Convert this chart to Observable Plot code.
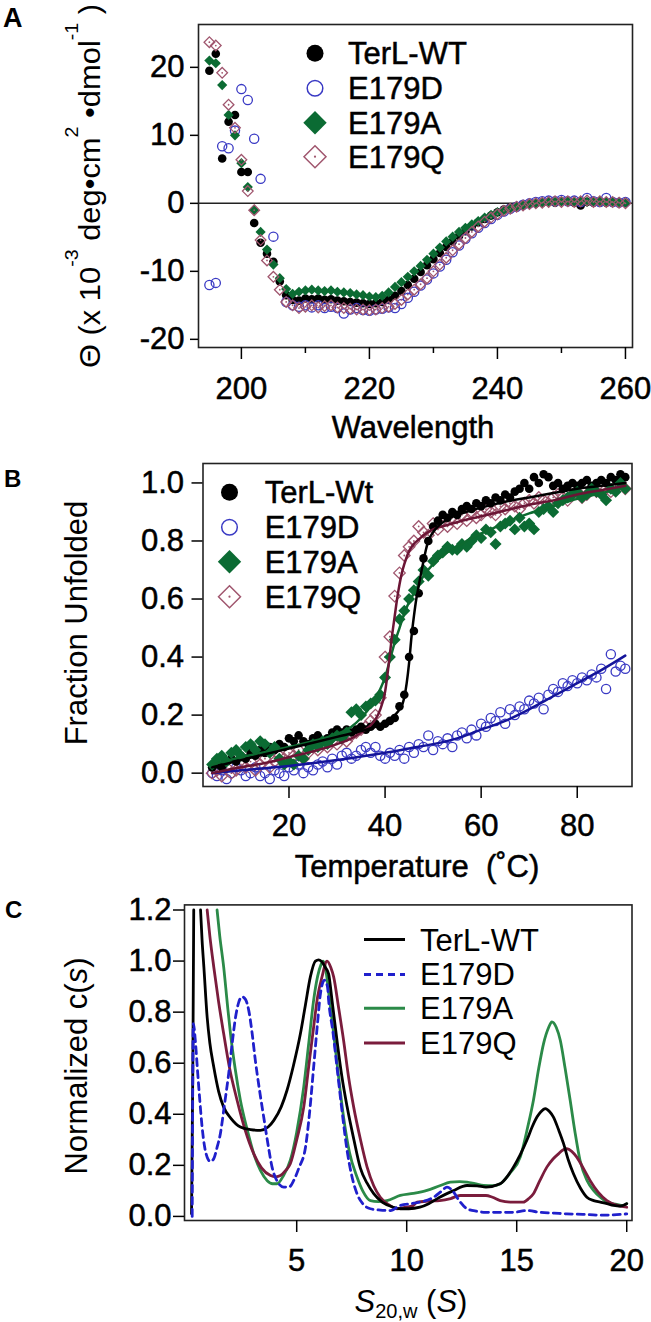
<!DOCTYPE html>
<html><head><meta charset="utf-8">
<script src="https://cdn.jsdelivr.net/npm/d3@7"></script>
<script src="https://cdn.jsdelivr.net/npm/@observablehq/plot@0.6"></script>
<style>
body{margin:0;background:#fff;}
#wrap{position:relative;width:651px;height:1322px;overflow:hidden;background:#fff;}
#wrap svg{position:absolute;left:0;overflow:visible;}
text{white-space:pre;}
</style></head><body><div id="wrap"></div>
<script>
// ---------- Panel A: CD spectra ----------
const wavelength = [195,196,197,198,199,200,201,202,203,204,205,206,207,208,209,210,211,212,213,214,215,216,217,218,219,220,221,222,223,224,225,226,227,228,229,230,231,232,233,234,235,236,237,238,239,240,241,242,243,244,245,246,247,248,249,250,251,252,253,254,255,256,257,258,259,260];
const cdWT = [19.5,22.0,6.6,12.0,13.0,4.6,4.6,-2.9,-5.8,-7.4,
  -8.6,-11.5,-13.5,-14.2,-14.3,-14.0,-14.1,-14.0,-14.2,-14.1,
  -14.3,-14.4,-14.5,-14.6,-14.7,-14.8,-14.7,-14.5,-14.2,-13.6,
  -12.9,-12.0,-11.1,-10.1,-9.1,-8.2,-7.3,-6.4,-5.6,-4.8,
  -4.1,-3.4,-2.8,-2.3,-1.8,-1.3,-0.9,-0.6,-0.4,-0.2,
  -0.1,0.0,0.1,0.2,0.1,0.3,0.2,0.1,-0.3,0.2,
  0.1,0.2,0.1,0.2,0.1,0.1];
const cdE179D = [-12.0,-11.7,8.4,8.1,10.7,16.8,15.2,9.5,3.6,NaN,
  -4.9,NaN,-14.5,-15.0,-15.2,-15.0,-15.3,-15.0,-15.4,-15.2,
  -15.4,-16.2,-15.6,-15.4,-15.7,-15.8,-15.6,-15.5,-15.3,-15.4,
  -14.8,-13.9,-13.0,-12.1,-11.2,-10.3,-9.3,-8.3,-7.2,-6.2,
  -5.2,-4.4,-3.6,-2.9,-2.3,-1.7,-1.2,-0.8,-0.5,-0.2,
  0.0,0.2,0.3,0.4,0.3,0.5,0.3,0.4,0.2,0.8,
  0.3,0.2,0.8,0.2,0.1,0.2];
const cdE179A = [21.0,20.6,17.4,13.0,10.0,5.9,2.4,-1.0,-4.2,-6.8,
  -9.0,-11.0,-12.6,-13.3,-13.0,-12.8,-12.7,-12.8,-12.9,-12.8,
  -13.0,-13.1,-13.2,-13.4,-13.5,-13.7,-13.8,-13.6,-13.1,-12.3,
  -11.6,-10.8,-10.0,-9.2,-8.3,-7.4,-6.5,-5.6,-4.9,-4.2,
  -3.6,-3.1,-2.6,-2.1,-1.7,-1.3,-1.0,-0.7,-0.5,-0.3,
  -0.1,0.0,0.1,0.2,0.2,0.3,0.3,0.2,0.3,0.2,
  0.3,0.3,0.2,0.2,0.1,0.1];
const cdE179Q = [23.7,23.2,19.2,14.5,11.1,6.4,1.8,-1.0,-5.4,-8.4,
  -10.8,-12.7,-14.5,-15.0,-15.4,-15.2,-15.0,-15.3,-15.1,-15.0,
  -15.3,-15.4,-15.5,-15.6,-15.6,-15.7,-15.6,-15.4,-15.2,-14.8,
  -14.2,-13.4,-12.7,-11.9,-11.0,-10.0,-9.0,-8.0,-6.9,-6.0,
  -5.1,-4.2,-3.4,-2.7,-2.1,-1.6,-1.1,-0.8,-0.5,-0.3,
  -0.1,0.0,0.1,0.2,0.3,0.2,0.3,0.2,0.3,0.4,
  0.2,0.3,0.2,0.2,0.1,0.0];
const namesA = ["TerL-WT","E179D","E179A","E179Q"];
const ticksAy = [-20,-10,0,10,20];
const ticksAx = [200,220,240,260];
const minorAx = [210,230,250];

// ---------- Panel B: thermal melts ----------
const temperature = [4,5,6,7,8,9,10,11,12,13,14,15,16,17,18,19,20,21,22,23,24,25,26,27,28,29,30,31,32,33,34,35,36,37,38,39,40,41,42,43,44,45,46,47,48,49,50,51,52,53,54,55,56,57,58,59,60,61,62,63,64,65,66,67,68,69,70,71,72,73,74,75,76,77,78,79,80,81,82,83,84,85,86,87,88,89,90];
const fuWT = [0.02,0.03,0.02,0.04,0.05,0.04,0.06,0.05,0.07,0.06,
  0.08,0.07,0.09,0.08,0.10,0.09,0.12,0.11,0.13,0.11,
  0.10,0.12,0.13,0.11,0.12,0.14,0.15,0.14,0.15,0.14,
  0.15,0.16,0.15,0.16,0.17,0.16,0.17,0.18,0.19,0.23,
  0.27,0.40,0.49,0.62,0.74,0.80,0.85,0.87,0.89,0.88,
  0.90,0.89,0.91,0.92,0.91,0.93,0.92,0.94,0.93,0.95,
  0.94,0.96,0.95,0.97,0.98,1.00,0.98,1.02,1.00,1.03,
  1.02,0.99,1.00,0.98,0.99,1.00,0.99,1.00,1.01,0.99,
  1.00,1.01,1.00,1.02,1.01,1.03,1.02];
const fuE179D = [0.00,-0.01,0.01,-0.02,0.00,0.02,0.01,-0.01,0.00,0.02,
  -0.01,0.00,-0.02,0.01,0.00,-0.01,0.02,0.01,0.03,0.00,
  0.02,0.01,0.03,0.04,0.02,0.05,0.03,0.06,0.07,0.05,
  0.06,0.08,0.09,0.07,0.09,0.06,0.05,0.07,0.06,0.08,
  0.05,0.09,0.07,0.10,0.09,0.13,0.08,0.11,0.10,0.12,
  0.09,0.13,0.14,0.12,0.15,0.13,0.17,0.16,0.19,0.18,
  0.21,0.17,0.22,0.20,0.23,0.22,0.25,0.24,0.26,0.22,
  0.27,0.29,0.28,0.31,0.30,0.32,0.31,0.33,0.32,0.34,
  0.33,0.36,0.29,0.41,0.35,0.37,0.36];
const fuE179A = [0.03,0.05,0.06,0.04,0.07,0.08,0.06,0.09,0.10,0.08,
  0.11,0.10,0.07,0.09,0.05,0.03,0.04,0.03,0.06,0.05,
  0.08,0.10,0.09,0.11,0.10,0.12,0.13,0.12,0.14,0.21,
  0.22,0.20,0.23,0.24,0.25,0.27,0.33,0.40,0.46,0.53,
  0.56,0.60,0.63,0.66,0.70,0.68,0.73,0.75,0.76,0.78,
  0.77,0.77,0.79,0.78,0.80,0.82,0.81,0.84,0.83,0.79,
  0.85,0.86,0.87,0.84,0.88,0.85,0.86,0.84,0.90,0.91,
  0.92,0.90,0.93,0.94,0.95,0.96,0.97,0.95,0.96,0.98,
  0.97,0.96,0.94,0.98,0.97,1.00,0.98];
const fuE179Q = [0.00,0.01,-0.01,0.02,0.00,0.01,0.03,0.02,0.04,0.01,
  0.03,0.05,0.02,0.04,0.06,0.05,0.07,0.06,0.08,0.05,
  0.07,0.09,0.08,0.10,0.09,0.11,0.10,0.12,0.11,0.13,
  0.14,0.15,0.16,0.18,0.20,0.26,0.40,0.47,0.61,0.69,
  0.75,0.78,0.80,0.85,0.83,0.82,0.86,0.84,0.87,0.85,
  0.88,0.86,0.89,0.87,0.90,0.88,0.89,0.91,0.90,0.89,
  0.92,0.91,0.93,0.92,0.91,0.93,0.94,0.93,0.95,0.94,
  0.93,0.95,0.96,0.95,0.94,0.96,0.97,0.95,0.96,0.98,
  0.97,0.99,0.98,0.97,0.99,1.00,0.98];
// fitted curves
const fitWT_T = [4,10,15,20,25,30,35,40,42,43,44,44.5,45,45.5,46,46.5,47,47.5,48,48.5,49,50,51,53,56,60,65,70,75,80,85,90];
const fitWT_F = [0.02,0.045,0.065,0.085,0.105,0.125,0.145,0.175,0.2,0.22,0.26,0.31,0.38,0.47,0.54,0.6,0.645,0.69,0.73,0.77,0.8,0.83,0.85,0.875,0.895,0.915,0.935,0.95,0.965,0.98,0.99,1.0];
const fitA_T = [4,10,20,25,30,33,35,37,39,40,41,42,43,44,45,46,47,48,50,52,55,58,62,66,70,75,80,85,90];
const fitA_F = [0.03,0.055,0.09,0.11,0.135,0.16,0.19,0.23,0.29,0.33,0.39,0.45,0.5,0.55,0.59,0.62,0.65,0.68,0.72,0.75,0.78,0.81,0.84,0.87,0.895,0.92,0.945,0.965,0.985];
const fitQ_T = [4,10,15,20,25,30,33,35,37,38,39,40,40.5,41,41.5,42,42.5,43,43.5,44,45,46,47,48,50,53,56,60,65,70,75,80,85,90];
const fitQ_F = [0.0,0.02,0.035,0.055,0.075,0.1,0.12,0.14,0.165,0.185,0.22,0.28,0.34,0.41,0.48,0.54,0.6,0.65,0.69,0.72,0.765,0.79,0.805,0.82,0.84,0.855,0.87,0.885,0.905,0.925,0.94,0.96,0.975,0.99];
const fitD_T = [4,10,20,30,40,45,50,55,60,65,70,75,80,85,90];
const fitD_F = [0.0,0.01,0.025,0.045,0.07,0.085,0.1,0.12,0.15,0.18,0.22,0.265,0.31,0.355,0.405];
const namesB = ["TerL-Wt","E179D","E179A","E179Q"];
const ticksBy = [0,0.2,0.4,0.6,0.8,1.0];
const ticksBx = [20,40,60,80];

// ---------- Panel C: c(s) distributions ----------
const sWT = [0.22,0.28,0.32,NaN,0.63,0.7,0.78,0.93,1.05,1.23,1.45,1.68,2.0,2.44,2.9,3.35,3.7,3.96,4.3,4.56,4.85,5.17,5.4,5.62,5.85,6.0,6.15,6.3,6.45,6.6,6.83,7.05,7.29,7.6,7.89,8.2,8.5,8.9,9.4,9.71,10.1,10.6,11.0,11.5,12.1,12.74,13.2,13.6,14.25,14.6,14.85,15.15,15.46,15.7,15.92,16.1,16.3,16.5,16.67,16.9,17.13,17.35,17.58,17.9,18.19,18.5,18.8,19.1,19.4,19.7,20.0];
const cWT = [0.01,0.6,1.2,NaN,1.2,1.08,0.977,0.78,0.68,0.585,0.49,0.428,0.385,0.35,0.34,0.337,0.35,0.376,0.43,0.494,0.59,0.716,0.83,0.938,1.0,1.005,0.997,0.975,0.95,0.85,0.69,0.55,0.43,0.3,0.19,0.13,0.089,0.055,0.036,0.03,0.03,0.036,0.05,0.075,0.1,0.121,0.12,0.115,0.128,0.16,0.193,0.24,0.298,0.35,0.389,0.41,0.422,0.41,0.389,0.34,0.285,0.22,0.167,0.11,0.075,0.062,0.056,0.05,0.043,0.04,0.05];
const sE179D = [0.25,0.3,0.4,0.48,0.6,0.7,0.82,0.93,1.08,1.23,1.38,1.53,1.72,1.91,2.07,2.22,2.37,2.52,2.67,2.82,2.97,3.12,3.3,3.5,3.7,3.88,4.1,4.41,4.65,4.86,5.1,5.4,5.6,5.77,5.95,6.08,6.26,6.4,6.45,6.65,6.83,7.05,7.29,7.5,7.74,8.0,8.35,8.8,9.26,9.71,10.2,10.6,11.22,11.6,11.83,12.13,12.4,12.74,13.2,13.6,14.2,14.85,15.46,16.07,16.7,17.28,18.0,18.8,19.4,20.0];
const cE179D = [0.0,0.755,0.68,0.585,0.45,0.35,0.27,0.232,0.215,0.226,0.27,0.324,0.44,0.56,0.68,0.78,0.84,0.86,0.85,0.807,0.72,0.611,0.5,0.389,0.28,0.193,0.14,0.115,0.115,0.14,0.19,0.271,0.42,0.585,0.76,0.873,0.925,0.9,0.847,0.72,0.585,0.42,0.258,0.16,0.089,0.05,0.03,0.025,0.023,0.043,0.05,0.056,0.075,0.1,0.115,0.095,0.06,0.03,0.02,0.016,0.016,0.016,0.023,0.016,0.013,0.01,0.008,0.005,0.006,0.01];
const sE179A = [1.38,1.5,1.68,1.85,1.99,2.2,2.44,2.75,3.05,3.35,3.66,3.9,4.11,4.4,4.71,5.0,5.32,5.55,5.77,5.95,6.1,6.2,6.3,6.45,6.68,6.9,7.13,7.4,7.74,8.0,8.35,8.7,9.1,9.71,10.3,10.92,11.5,11.98,12.4,12.74,13.1,13.5,13.9,14.25,14.7,15.16,15.5,15.76,16.0,16.22,16.45,16.6,16.8,16.98,17.2,17.43,17.65,17.88,18.2,18.49,18.8,19.1,19.5,19.86,20.0];
const cE179A = [1.2,1.1,0.977,0.83,0.716,0.58,0.455,0.34,0.245,0.18,0.14,0.128,0.128,0.16,0.22,0.33,0.507,0.68,0.847,0.94,0.985,1.0,0.977,0.88,0.716,0.55,0.389,0.25,0.154,0.1,0.062,0.058,0.062,0.082,0.09,0.102,0.12,0.134,0.136,0.134,0.128,0.121,0.12,0.128,0.17,0.232,0.35,0.455,0.58,0.677,0.74,0.762,0.74,0.69,0.58,0.455,0.33,0.219,0.14,0.102,0.075,0.056,0.048,0.043,0.05];
const sE179Q = [0.93,1.05,1.23,1.45,1.68,1.95,2.29,2.65,3.05,3.4,3.81,4.05,4.26,4.5,4.71,5.0,5.32,5.55,5.77,5.95,6.15,6.38,6.55,6.68,6.9,7.13,7.35,7.59,7.9,8.2,8.5,8.8,9.2,9.56,9.9,10.3,10.47,11.0,11.5,12.0,12.43,13.0,13.6,13.9,14.25,14.8,15.3,15.55,15.76,16.05,16.37,16.65,16.9,17.1,17.28,17.5,17.73,18.05,18.34,18.7,19.1,19.5,20.0];
const cE179Q = [1.2,1.1,0.977,0.84,0.716,0.58,0.455,0.34,0.245,0.19,0.16,0.155,0.16,0.18,0.206,0.3,0.428,0.59,0.742,0.86,0.938,1.0,0.975,0.938,0.82,0.69,0.55,0.428,0.3,0.193,0.12,0.075,0.045,0.03,0.035,0.043,0.056,0.06,0.062,0.07,0.082,0.082,0.082,0.075,0.062,0.056,0.056,0.07,0.089,0.14,0.193,0.225,0.245,0.26,0.265,0.255,0.232,0.185,0.14,0.095,0.062,0.045,0.036];
const namesC = ["TerL-WT","E179D","E179A","E179Q"];
const ticksCy = [0,0.2,0.4,0.6,0.8,1.0,1.2];
const ticksCx = [5,10,15,20];

// ---------- styling ----------
const FONT = "'Liberation Sans', Arial, Helvetica, sans-serif";
const FS = 31;
const COL = {black:"#000", blue:"#3a3ac4", green:"#0b6b33", mauve:"#a0566e",
  blueFit:"#14149a", greenFit:"#0d6a30", maroonFit:"#6b1535",
  cBlue:"#2020cc", cGreen:"#2b8a48", cMaroon:"#7a1c3c"};
const baseStyle = {fontFamily: FONT, fontSize: FS+"px", background:"transparent", color:"#000", overflow:"visible"};
const fmt1 = d => d.toFixed(1);
const fmtInt = d => String(d);

const wrap = document.getElementById("wrap");
function place(svg, top){
  svg.style.top = top+"px"; wrap.appendChild(svg);
  const g = d3.select(svg);
  g.selectAll('g[aria-label$="tick label"] text').attr("stroke","#000").attr("stroke-width",0.5);
  return g;
}
function txt(g, x, y, s, o={}){
  const t = g.append("text").attr("x",x).attr("y",y).attr("font-family",FONT)
    .attr("font-size",o.size||FS).attr("font-weight",o.weight||"normal")
    .attr("text-anchor",o.anchor||"start").attr("fill","#000").text(s);
  if (o.heavy) t.attr("stroke","#000").attr("stroke-width",0.5);
  return t;
}

// ---------- Panel A ----------
const rows = (xs, ys) => xs.map((x,i)=>({x, y: ys[i]})).filter(d=>Number.isFinite(d.y) && Number.isFinite(d.x));
const aWT = rows(wavelength, cdWT), aD = rows(wavelength, cdE179D), aA = rows(wavelength, cdE179A), aQ = rows(wavelength, cdE179Q);
const plotA = Plot.plot({
  width:651, height:440, marginLeft:198, marginRight:19, marginTop:24, marginBottom:93,
  style: baseStyle,
  x:{domain:[193.3,261.1]}, y:{domain:[-21.2,26.3]},
  marks:[
    Plot.ruleY([0],{stroke:"#222",strokeWidth:1.5}),
    Plot.dot(aWT,{x:"x",y:"y",r:4.3,fill:COL.black}),
    Plot.dot(aD,{x:"x",y:"y",r:4.6,stroke:COL.blue,strokeWidth:1.3,fill:"none"}),
    Plot.dot(aA,{x:"x",y:"y",r:4.6,symbol:"diamond2",fill:COL.green}),
    Plot.dot(aQ,{x:"x",y:"y",r:4.8,symbol:"diamond2",stroke:COL.mauve,strokeWidth:1.3,fill:"none"}),
    Plot.dot(aQ,{x:"x",y:"y",r:0.9,fill:COL.mauve}),
    Plot.frame({stroke:"#222",strokeWidth:1.6}),
    Plot.axisY({ticks:ticksAy,tickSize:8,tickPadding:6,tickFormat:fmtInt,label:null,strokeWidth:1.5}),
    Plot.axisX({ticks:ticksAx,tickSize:12,tickPadding:17,tickFormat:fmtInt,label:null,strokeWidth:1.5}),
    Plot.axisX({ticks:minorAx,tickSize:6,tickFormat:()=>"",label:null,strokeWidth:1.5})
  ]
});
const gA = place(plotA, 0);
txt(gA, 3, 27, "A", {size:27, weight:"bold"});
txt(gA, 413, 438, "Wavelength", {anchor:"middle", heavy:true});
{
  const t = gA.append("text").attr("transform","translate(100,368) rotate(-90)")
    .attr("text-anchor","start").attr("font-family",FONT).attr("font-size",30).attr("fill","#000")
    .attr("textLength",364).attr("lengthAdjust","spacingAndGlyphs");
  t.append("tspan").text("Θ (x 10");
  t.append("tspan").attr("dy",-22).attr("font-size",19).text("-3");
  t.append("tspan").attr("dy",22).text(" deg•cm");
  t.append("tspan").attr("dy",-22).attr("font-size",19).text("2");
  t.append("tspan").attr("dy",22).text(" •dmol");
  t.append("tspan").attr("dy",-22).attr("font-size",19).text("-1");
  t.append("tspan").attr("dy",22).text(" )");
}
function legendMarkers(g, x0, tx, ys, names, sz){
  g.append("circle").attr("cx",x0).attr("cy",ys[0]).attr("r",sz.r).attr("fill",COL.black);
  g.append("circle").attr("cx",x0).attr("cy",ys[1]).attr("r",sz.r-0.7).attr("fill","none").attr("stroke",COL.blue).attr("stroke-width",1.5);
  const dia = h => `M0,${-h}L${h},0L0,${h}L${-h},0Z`;
  g.append("path").attr("d",dia(sz.d)).attr("transform",`translate(${x0},${ys[2]})`).attr("fill",COL.green);
  g.append("path").attr("d",dia(sz.d-0.7)).attr("transform",`translate(${x0},${ys[3]})`).attr("fill","none").attr("stroke",COL.mauve).attr("stroke-width",1.5);
  g.append("circle").attr("cx",x0).attr("cy",ys[3]).attr("r",1.1).attr("fill",COL.mauve);
  names.forEach((n,i)=>txt(g, tx, ys[i]+11, n, {heavy:true}));
}
legendMarkers(gA, 315, 348, [53.3,88.3,122.7,156.7], namesA, {r:8.5,d:11.7});

// ---------- Panel B ----------
const bWT = rows(temperature, fuWT), bD = rows(temperature, fuE179D), bA = rows(temperature, fuE179A), bQ = rows(temperature, fuE179Q);
const lWT = rows(fitWT_T, fitWT_F), lA = rows(fitA_T, fitA_F), lQ = rows(fitQ_T, fitQ_F), lD = rows(fitD_T, fitD_F);
const plotB = Plot.plot({
  width:651, height:440, marginLeft:202.5, marginRight:19.5, marginTop:23, marginBottom:94,
  style: baseStyle,
  x:{domain:[2.1,91.4]}, y:{domain:[-0.046,1.067]},
  marks:[
    Plot.dot(bD,{x:"x",y:"y",r:4.6,stroke:COL.blue,strokeWidth:1.3,fill:"none"}),
    Plot.dot(bQ,{x:"x",y:"y",r:5.2,symbol:"diamond2",stroke:COL.mauve,strokeWidth:1.3,fill:"none"}),
    Plot.dot(bQ,{x:"x",y:"y",r:0.9,fill:COL.mauve}),
    Plot.dot(bWT,{x:"x",y:"y",r:4.3,fill:COL.black}),
    Plot.dot(bA,{x:"x",y:"y",r:5.4,symbol:"diamond2",fill:COL.green}),
    Plot.line(lD,{x:"x",y:"y",stroke:COL.blueFit,strokeWidth:2.5,curve:"monotone-x"}),
    Plot.line(lA,{x:"x",y:"y",stroke:COL.greenFit,strokeWidth:2.5,curve:"monotone-x"}),
    Plot.line(lQ,{x:"x",y:"y",stroke:COL.maroonFit,strokeWidth:2.5,curve:"monotone-x"}),
    Plot.line(lWT,{x:"x",y:"y",stroke:COL.black,strokeWidth:2.5,curve:"monotone-x"}),
    Plot.frame({stroke:"#222",strokeWidth:1.6}),
    Plot.axisY({ticks:ticksBy,tickSize:11,tickPadding:8,tickFormat:fmt1,label:null,strokeWidth:1.5}),
    Plot.axisX({ticks:ticksBx,tickSize:12,tickPadding:15,tickFormat:fmtInt,label:null,strokeWidth:1.5})
  ]
});
const gB = place(plotB, 440);
txt(gB, 4, 47, "B", {size:24, weight:"bold"});
txt(gB, 417, 437, "Temperature  (˚C)", {anchor:"middle", heavy:true});
txt(gB, 0, 0, "Fraction Unfolded", {anchor:"middle"}).attr("x",null).attr("y",null)
  .attr("transform","translate(87,183) rotate(-90)");
legendMarkers(gB, 229.5, 264.7, [52.3,87.3,121.7,156.7], namesB, {r:8.5,d:11.7});

// ---------- Panel C ----------
const cRows = (xs, ys) => xs.map((x,i)=>({x, y: ys[i]}));
const plotC = Plot.plot({
  width:651, height:442, marginLeft:184, marginRight:19.5, marginTop:24.4, marginBottom:102,
  style: baseStyle,
  x:{domain:[-0.1,20.24]}, y:{domain:[-0.016,1.22]},
  marks:[
    Plot.line(cRows(sE179A,cE179A),{x:"x",y:"y",stroke:COL.cGreen,strokeWidth:2.8,curve:"monotone-x"}),
    Plot.line(cRows(sE179Q,cE179Q),{x:"x",y:"y",stroke:COL.cMaroon,strokeWidth:2.8,curve:"monotone-x"}),
    Plot.line(cRows(sWT,cWT),{x:"x",y:"y",stroke:COL.black,strokeWidth:2.8,curve:"monotone-x"}),
    Plot.line(cRows(sE179D,cE179D),{x:"x",y:"y",stroke:COL.cBlue,strokeWidth:2.8,strokeDasharray:"7,5",curve:"monotone-x"}),
    Plot.frame({stroke:"#222",strokeWidth:1.6}),
    Plot.axisY({ticks:ticksCy,tickSize:11,tickPadding:2,tickFormat:fmt1,label:null,strokeWidth:1.5}),
    Plot.axisX({ticks:ticksCx,tickSize:12,tickPadding:16,tickFormat:fmtInt,label:null,strokeWidth:1.5})
  ]
});
const gC = place(plotC, 880);
txt(gC, 5, 38, "C", {size:24, weight:"bold"});
txt(gC, 0, 0, "", {anchor:"middle"}).attr("x",null).attr("y",null)
  .attr("transform","translate(87,186) rotate(-90)")
  .call(t=>{ t.append("tspan").text("Normalized c("); t.append("tspan").attr("font-style","italic").text("s"); t.append("tspan").text(")"); });
{
  const t = txt(gC, 411, 432, "", {anchor:"middle"});
  t.append("tspan").attr("font-style","italic").text("S");
  t.append("tspan").attr("font-size",20).attr("dy",6).text("20,w");
  t.append("tspan").attr("dy",-6).text(" (");
  t.append("tspan").attr("font-style","italic").text("S");
  t.append("tspan").text(")");
}
{
  const ys = [59.6,94.4,128.3,163];
  const cols = [COL.black, COL.cBlue, COL.cGreen, COL.cMaroon];
  ys.forEach((y,i)=>{
    gC.append("line").attr("x1",364).attr("x2",405).attr("y1",y).attr("y2",y)
      .attr("stroke",cols[i]).attr("stroke-width",3).attr("stroke-dasharray", i===1 ? "7,5" : null);
    txt(gC, 420, y+11, namesC[i]);
  });
}
</script>
</body></html>
